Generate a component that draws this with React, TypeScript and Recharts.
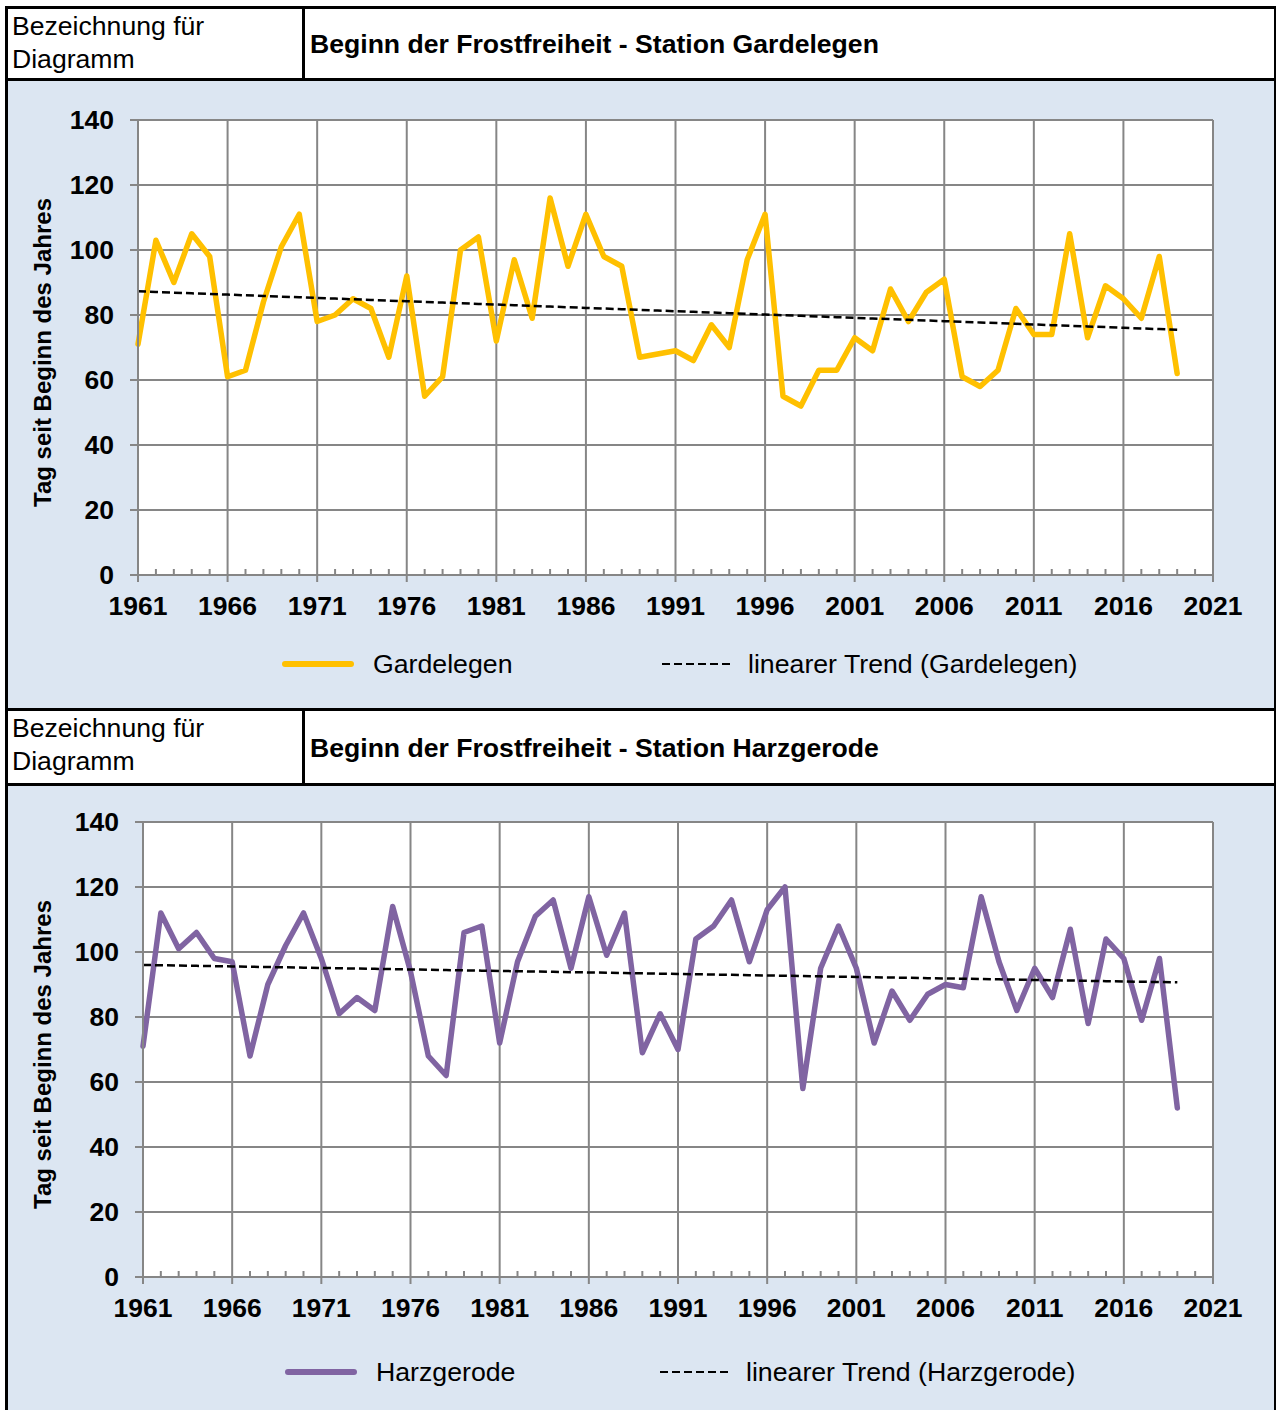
import { LineChart, Line, XAxis, YAxis, CartesianGrid, Legend, Label } from 'recharts';

const FONT = '"Liberation Sans", Arial, sans-serif';
const GRID = '#868686';
const BLUE_BG = '#dce6f2';

const FIRST_YEAR = 1961;
const xTicks = [1961, 1966, 1971, 1976, 1981, 1986, 1991, 1996, 2001, 2006, 2011, 2016, 2021];
const yTicks = [0, 20, 40, 60, 80, 100, 120, 140];

// Tag seit Beginn des Jahres, 1961..2019
const gardelegen = [
  71, 103, 90, 105, 98, 61, 63, 84, 101, 111,
  78, 80, 85, 82, 67, 92, 55, 61, 100, 104,
  72, 97, 79, 116, 95, 111, 98, 95, 67, 68,
  69, 66, 77, 70, 97, 111, 55, 52, 63, 63,
  73, 69, 88, 78, 87, 91, 61, 58, 63, 82,
  74, 74, 105, 73, 89, 85, 79, 98, 62,
];

const harzgerode = [
  71, 112, 101, 106, 98, 97, 68, 90, 102, 112,
  98, 81, 86, 82, 114, 94, 68, 62, 106, 108,
  72, 97, 111, 116, 95, 117, 99, 112, 69, 81,
  70, 104, 108, 116, 97, 113, 120, 58, 95, 108,
  95, 72, 88, 79, 87, 90, 89, 117, 97, 82,
  95, 86, 107, 78, 104, 98, 79, 98, 52,
];

// every year gets a tick (minor ones drawn upwards, 5-year ones labelled)
const allTicks: number[] = [];
for (let y = xTicks[0]; y <= xTicks[xTicks.length - 1]; y++) allTicks.push(y);

// least squares fit, like Excel's linear trendline
function linearTrend(values: number[]) {
  const n = values.length;
  const mx = (n - 1) / 2;
  const my = values.reduce((a, b) => a + b, 0) / n;
  let sxy = 0;
  let sxx = 0;
  values.forEach((v, i) => {
    sxy += (i - mx) * (v - my);
    sxx += (i - mx) * (i - mx);
  });
  const slope = sxy / sxx;
  return values.map((_, i) => my + slope * (i - mx));
}

function buildRows(values: number[]) {
  const trend = linearTrend(values);
  return values.map((v, i) => ({ year: FIRST_YEAR + i, value: v, trend: trend[i] }));
}

const XTick = (props: any) => {
  const { x, y, payload } = props;
  const v = payload.value;
  if ((v - FIRST_YEAR) % 5 !== 0) {
    return <line x1={x} x2={x} y1={y} y2={y - 6} stroke={GRID} strokeWidth={2} />;
  }
  return (
    <g>
      <line x1={x} x2={x} y1={y} y2={y + 7} stroke={GRID} strokeWidth={2} />
      <text x={x} y={y + 40} textAnchor="middle" fontSize={26.5} fontWeight="bold" fontFamily={FONT} fill="#000">
        {v}
      </text>
    </g>
  );
};

function makeLegend(starts: number[]) {
  return (props: any) => {
    const payload = props.payload || [];
    return (
      <div style={{ position: 'relative', height: 32, fontFamily: FONT }}>
        {payload.map((p: any, i: number) => {
          const dashed = !!(p.payload && p.payload.strokeDasharray);
          return (
            <div
              key={p.value}
              style={{ position: 'absolute', left: starts[i], top: 0, height: 32, display: 'flex', alignItems: 'center', whiteSpace: 'nowrap' }}
            >
              <svg width={74} height={10}>
                {dashed ? (
                  <line x1={1} x2={73} y1={5} y2={5} stroke="#000" strokeWidth={2} strokeDasharray="8 4" />
                ) : (
                  <line x1={4} x2={70} y1={5} y2={5} stroke={p.color} strokeWidth={6} strokeLinecap="round" />
                )}
              </svg>
              <span style={{ marginLeft: dashed ? 13 : 18, fontSize: 26.7, color: '#000' }}>{p.value}</span>
            </div>
          );
        })}
      </div>
    );
  };
}

type PanelProps = {
  station: string;
  values: number[];
  color: string;
  height: number;
  plotLeft: number;
  plotTop: number;
  legendTop: number;
  legendStarts: number[];
};

function StationChart({ station, values, color, height, plotLeft, plotTop, legendTop, legendStarts }: PanelProps) {
  const rows = buildRows(values);
  return (
    <LineChart width={1266} height={height} data={rows} margin={{ top: plotTop, right: 61, bottom: 0, left: 0 }}>
      <CartesianGrid stroke={GRID} strokeWidth={2} fill="#fff" fillOpacity={1} verticalValues={xTicks} />
      <XAxis
        dataKey="year"
        type="number"
        domain={[1961, 2021]}
        ticks={allTicks}
        interval={0}
        height={133}
        tickSize={0}
        tickMargin={0}
        tickLine={false}
        axisLine={{ stroke: GRID, strokeWidth: 2 }}
        tick={<XTick />}
      />
      <YAxis
        domain={[0, 140]}
        ticks={yTicks}
        interval={0}
        width={plotLeft}
        tickSize={8}
        tickMargin={16}
        axisLine={{ stroke: GRID, strokeWidth: 2 }}
        tickLine={{ stroke: GRID, strokeWidth: 2 }}
        tick={{ fontSize: 26.5, fontWeight: 'bold', fill: '#000', fontFamily: FONT }}
      >
        <Label
          value="Tag seit Beginn des Jahres"
          angle={-90}
          position="center"
          dx={34 - plotLeft / 2}
          dy={5}
          style={{ fontSize: 24, fontWeight: 'bold', fill: '#000', fontFamily: FONT }}
        />
      </YAxis>
      <Legend
        layout="horizontal"
        verticalAlign="middle"
        align="center"
        wrapperStyle={{ top: legendTop, left: 0, width: 1266 }}
        content={makeLegend(legendStarts)}
      />
      <Line
        dataKey="value"
        name={station}
        stroke={color}
        strokeWidth={5.5}
        strokeLinejoin="round"
        strokeLinecap="round"
        dot={false}
        activeDot={false}
        isAnimationActive={false}
      />
      <Line
        dataKey="trend"
        name={`linearer Trend (${station})`}
        stroke="#000"
        strokeWidth={2.5}
        strokeDasharray="8 4"
        dot={false}
        activeDot={false}
        isAnimationActive={false}
      />
    </LineChart>
  );
}

function Header({ title, innerHeight }: { title: string; innerHeight: number }) {
  return (
    <div style={{ display: 'flex', height: innerHeight, borderTop: '3px solid #000', borderBottom: '3px solid #000', background: '#fff' }}>
      <div style={{ width: 297, borderRight: '3px solid #000', padding: '1px 0 0 4px', fontSize: 26.6, lineHeight: '33px', boxSizing: 'border-box', flex: 'none' }}>
        Bezeichnung für
        <br />
        Diagramm
      </div>
      <div style={{ flex: 1, display: 'flex', alignItems: 'center', paddingLeft: 5, paddingTop: 2, fontSize: 26.6, fontWeight: 'bold' }}>{title}</div>
    </div>
  );
}

export default function App() {
  return (
    <div
      style={{
        position: 'absolute',
        left: 5,
        top: 6,
        width: 1271,
        boxSizing: 'border-box',
        borderLeft: '3px solid #000',
        borderRight: '2px solid #000',
        fontFamily: FONT,
        color: '#000',
      }}
    >
      <Header title="Beginn der Frostfreiheit - Station Gardelegen" innerHeight={69} />
      <div style={{ background: BLUE_BG, height: 627 }}>
        <StationChart
          station="Gardelegen"
          values={gardelegen}
          color="#FFC000"
          height={627}
          plotLeft={130}
          plotTop={39}
          legendTop={567}
          legendStarts={[273, 653]}
        />
      </div>
      <Header title="Beginn der Frostfreiheit - Station Harzgerode" innerHeight={72} />
      <div style={{ background: BLUE_BG, height: 624 }}>
        <StationChart
          station="Harzgerode"
          values={harzgerode}
          color="#8064A2"
          height={624}
          plotLeft={135}
          plotTop={36}
          legendTop={570}
          legendStarts={[276, 651]}
        />
      </div>
    </div>
  );
}
